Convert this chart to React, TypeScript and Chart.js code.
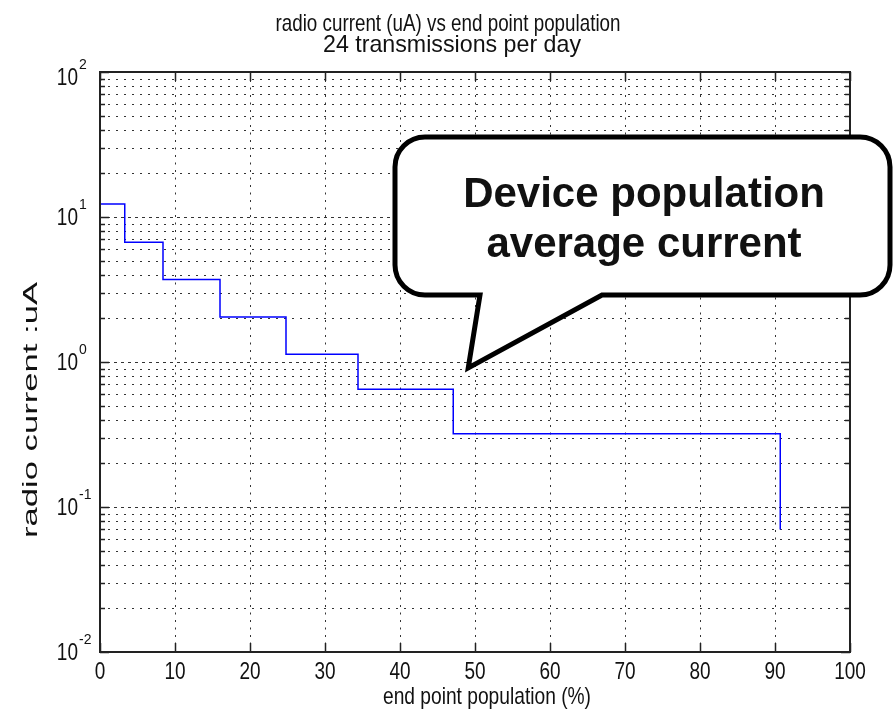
import { useEffect, useRef } from 'react';
import { Chart, registerables } from 'chart.js';

Chart.register(...registerables);

// ---- data ----
const populationSteps = [0, 3.3, 8.4, 16, 24.8, 34.4, 47.1, 90.7];
const radioCurrent = [12.3, 6.7, 3.7, 2.04, 1.13, 0.65, 0.32, 0.07];

const xTickValues = [0, 10, 20, 30, 40, 50, 60, 70, 80, 90, 100];
const xTickLabels = ['0', '10', '20', '30', '40', '50', '60', '70', '80', '90', '100'];
const yDecades = [0.01, 0.1, 1, 10, 100];
const yExponents = ['-2', '-1', '0', '1', '2'];
const yMinorMultipliers = [2, 3, 4, 5, 6, 7, 8, 9];

const titleLines = ['radio current (uA) vs end point population', '24 transmissions per day'];
const xAxisTitle = 'end point population (%)';
const yAxisTitle = 'radio current :uA';
const calloutLines = ['Device population', 'average current'];
const calloutTip = { x: 49.1, y: 0.91 };

const FONT = '"Liberation Sans", Arial, Helvetica, sans-serif';

function fitText(ctx: CanvasRenderingContext2D, text: string, x: number, y: number, font: string,
  width: number | null, align: CanvasTextAlign, rot = 0, sx = 1, sy = 1) {
  ctx.save();
  ctx.font = font;
  let scaleX = sx;
  if (width) scaleX = width / ctx.measureText(text).width;
  ctx.translate(x, y);
  if (rot) ctx.rotate(rot);
  ctx.scale(scaleX, sy);
  ctx.textAlign = align;
  ctx.textBaseline = 'alphabetic';
  ctx.fillStyle = '#111';
  ctx.fillText(text, 0, 0);
  ctx.restore();
}

const matlabPlugin = {
  id: 'matlabLook',
  beforeDatasetsDraw(chart: any) {
    const { ctx, chartArea: a, scales } = chart;
    const xs = scales.x, ys = scales.y;
    ctx.save();
    ctx.lineWidth = 1;
    ctx.strokeStyle = '#333';
    ctx.setLineDash([2, 5.5]);
    xTickValues.forEach((v) => {
      const px = Math.round(xs.getPixelForValue(v)) + 0.5;
      if (px <= a.left + 1 || px >= a.right - 1) return;
      ctx.beginPath();
      ctx.moveTo(px, a.bottom);
      ctx.lineTo(px, a.top);
      ctx.stroke();
    });
    ctx.setLineDash([2, 6]);
    yDecades.slice(0, -1).forEach((d) => {
      yMinorMultipliers.forEach((m) => {
        const py = Math.round(ys.getPixelForValue(d * m)) + 0.5;
        ctx.beginPath();
        ctx.moveTo(a.left, py);
        ctx.lineTo(a.right, py);
        ctx.stroke();
      });
    });
    ctx.setLineDash([3, 4]);
    yDecades.forEach((d) => {
      const py = Math.round(ys.getPixelForValue(d)) + 0.5;
      if (py <= a.top + 1 || py >= a.bottom - 1) return;
      ctx.beginPath();
      ctx.moveTo(a.left, py);
      ctx.lineTo(a.right, py);
      ctx.stroke();
    });
    ctx.restore();
  },
  afterDatasetsDraw(chart: any) {
    const { ctx, chartArea: a, scales } = chart;
    const xs = scales.x, ys = scales.y;
    ctx.save();
    ctx.setLineDash([]);
    ctx.strokeStyle = '#222';
    ctx.lineWidth = 1.5;
    xTickValues.forEach((v) => {
      const px = Math.round(xs.getPixelForValue(v)) + 0.5;
      ctx.beginPath();
      ctx.moveTo(px, a.bottom); ctx.lineTo(px, a.bottom - 9);
      ctx.moveTo(px, a.top); ctx.lineTo(px, a.top + 9);
      ctx.stroke();
    });
    yDecades.forEach((d) => {
      const py = Math.round(ys.getPixelForValue(d)) + 0.5;
      ctx.beginPath();
      ctx.moveTo(a.left, py); ctx.lineTo(a.left + 9, py);
      ctx.moveTo(a.right, py); ctx.lineTo(a.right - 9, py);
      ctx.stroke();
    });
    yDecades.slice(0, -1).forEach((d) => {
      yMinorMultipliers.forEach((m) => {
        const py = Math.round(ys.getPixelForValue(d * m)) + 0.5;
        ctx.beginPath();
        ctx.moveTo(a.left, py); ctx.lineTo(a.left + 5, py);
        ctx.moveTo(a.right, py); ctx.lineTo(a.right - 5, py);
        ctx.stroke();
      });
    });
    ctx.lineWidth = 2;
    ctx.strokeRect(Math.round(a.left), Math.round(a.top), Math.round(a.right - a.left), Math.round(a.bottom - a.top));
    ctx.restore();
  },
  afterDraw(chart: any) {
    const { ctx, chartArea: a, scales } = chart;
    const xs = scales.x, ys = scales.y;
    // title
    fitText(ctx, titleLines[0], 448, 31, `24px ${FONT}`, 345, 'center');
    fitText(ctx, titleLines[1], 452, 52, `24px ${FONT}`, 258, 'center');
    // x tick labels
    xTickValues.forEach((v, i) => {
      fitText(ctx, xTickLabels[i], xs.getPixelForValue(v), a.bottom + 27, `20px ${FONT}`, null, 'center', 0, 0.95, 1.2);
    });
    // y tick labels 10^n
    yDecades.forEach((d, i) => {
      const py = Math.max(ys.getPixelForValue(d), a.top + 5);
      fitText(ctx, '10', a.left - 22, py + 8, `20px ${FONT}`, null, 'right', 0, 0.95, 1.2);
      fitText(ctx, yExponents[i], a.left - 21, py - 8, `14px ${FONT}`, null, 'left', 0, 1, 1.1);
    });
    // axis titles
    fitText(ctx, xAxisTitle, 487, 704, `24px ${FONT}`, 208, 'center');
    fitText(ctx, yAxisTitle, 37, 410, `21px ${FONT}`, 256, 'center', -Math.PI / 2);

    // callout
    const L = 395, R = 890, T = 137, B = 295, r = 30;
    const tipX = xs.getPixelForValue(calloutTip.x);
    const tipY = ys.getPixelForValue(calloutTip.y);
    const baseL = 480, baseR = 602;
    ctx.save();
    ctx.beginPath();
    ctx.moveTo(L + r, T);
    ctx.lineTo(R - r, T);
    ctx.arcTo(R, T, R, T + r, r);
    ctx.lineTo(R, B - r);
    ctx.arcTo(R, B, R - r, B, r);
    ctx.lineTo(baseR, B);
    ctx.lineTo(tipX, tipY);
    ctx.lineTo(baseL, B);
    ctx.lineTo(L + r, B);
    ctx.arcTo(L, B, L, B - r, r);
    ctx.lineTo(L, T + r);
    ctx.arcTo(L, T, L + r, T, r);
    ctx.closePath();
    ctx.fillStyle = '#fff';
    ctx.fill();
    ctx.lineWidth = 5;
    ctx.lineJoin = 'miter';
    ctx.miterLimit = 10;
    ctx.strokeStyle = '#000';
    ctx.stroke();
    ctx.restore();
    fitText(ctx, calloutLines[0], 644, 207, `bold 42px ${FONT}`, null, 'center');
    fitText(ctx, calloutLines[1], 644, 257, `bold 42px ${FONT}`, null, 'center');
  },
};

export default function App() {
  const canvasRef = useRef<HTMLCanvasElement | null>(null);

  useEffect(() => {
    const canvas = canvasRef.current;
    if (!canvas) return;
    const chart = new Chart(canvas, {
      type: 'line',
      data: {
        datasets: [
          {
            data: populationSteps.map((x, i) => ({ x, y: radioCurrent[i] })),
            stepped: 'before',
            borderColor: '#0000ff',
            borderWidth: 1.5,
            pointRadius: 0,
            fill: false,
          },
        ],
      },
      options: {
        animation: false,
        responsive: false,
        maintainAspectRatio: false,
        devicePixelRatio: 1,
        layout: { padding: { left: 100, top: 72, right: 43, bottom: 59 } },
        plugins: { legend: { display: false }, tooltip: { enabled: false }, title: { display: false } },
        scales: {
          x: {
            type: 'linear', min: 0, max: 100,
            ticks: { display: false }, grid: { display: false }, border: { display: false },
            afterFit: (s: any) => { s.height = 0; },
          },
          y: {
            type: 'logarithmic', min: 0.01, max: 100,
            ticks: { display: false }, grid: { display: false }, border: { display: false },
            afterFit: (s: any) => { s.width = 0; },
          },
        },
      },
      plugins: [matlabPlugin],
    } as any);
    return () => chart.destroy();
  }, []);

  return (
    <div style={{ position: 'absolute', left: 0, top: 0, width: 893, height: 711, background: '#fff' }}>
      <canvas ref={canvasRef} width={893} height={711} style={{ display: 'block', width: 893, height: 711 }} />
    </div>
  );
}
